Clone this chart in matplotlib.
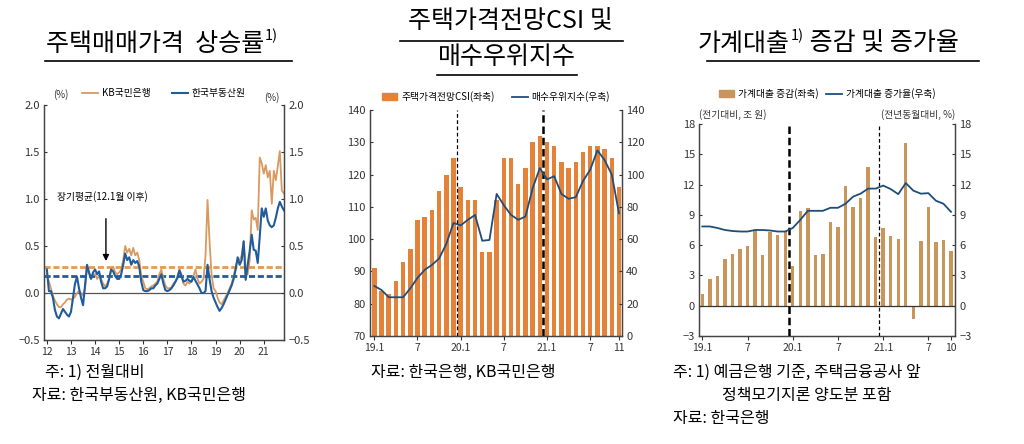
import matplotlib
matplotlib.use('Agg')
import matplotlib.pyplot as plt
import numpy as np
from matplotlib.patches import Patch
from matplotlib.lines import Line2D

plt.rcParams['font.family'] = ['Noto Sans CJK KR', 'DejaVu Sans']
plt.rcParams['axes.unicode_minus'] = True

# ---------------- data ----------------
# Panel 1: monthly house price change (%), 2012.1 - 2021.11
kb_rate = [
    0.20, 0.12, 0.05, -0.03, -0.08, -0.12, -0.15, -0.15, -0.12, -0.10, -0.07, -0.06,
    -0.07, -0.06, -0.04, 0.00, 0.02, 0.00, -0.03, 0.05, 0.28, 0.20, 0.17, 0.20,
    0.20, 0.15, 0.18, 0.15, 0.10, 0.07, 0.10, 0.15, 0.25, 0.28, 0.22, 0.20,
    0.22, 0.25, 0.35, 0.50, 0.43, 0.47, 0.40, 0.48, 0.40, 0.43, 0.35, 0.18,
    0.12, 0.05, 0.04, 0.05, 0.07, 0.08, 0.10, 0.12, 0.20, 0.25, 0.15, 0.08,
    0.05, 0.05, 0.06, 0.10, 0.12, 0.18, 0.25, 0.20, 0.10, 0.08, 0.12, 0.10,
    0.13, 0.18, 0.25, 0.15, 0.10, 0.12, 0.15, 0.40, 0.99, 0.55, 0.20, 0.05,
    0.02, -0.05, -0.10, -0.12, -0.08, -0.04, 0.00, 0.05, 0.10, 0.18, 0.28, 0.35,
    0.35, 0.40, 0.55, 0.25, 0.20, 0.35, 0.88, 0.78, 0.80, 0.67, 1.44, 1.38,
    1.27, 1.36, 1.23, 1.30, 0.95, 1.30, 1.20, 1.35, 1.51, 1.09, 1.06,
]
reb_rate = [
    0.25, 0.02, 0.02, -0.05, -0.18, -0.25, -0.27, -0.22, -0.17, -0.20, -0.23, -0.25,
    -0.20, -0.05, 0.10, 0.17, 0.05, -0.05, -0.13, 0.08, 0.30, 0.22, 0.15, 0.22,
    0.25, 0.20, 0.23, 0.12, 0.05, 0.05, 0.07, 0.15, 0.25, 0.23, 0.18, 0.15,
    0.15, 0.20, 0.30, 0.42, 0.35, 0.38, 0.30, 0.35, 0.32, 0.34, 0.28, 0.12,
    0.03, 0.02, 0.02, 0.03, 0.05, 0.05, 0.08, 0.10, 0.15, 0.20, 0.10, 0.03,
    0.02, 0.03, 0.05, 0.08, 0.12, 0.16, 0.24, 0.18, 0.12, 0.13, 0.15, 0.13,
    0.12, 0.17, 0.13, 0.09, 0.05, 0.00, 0.00, 0.02, 0.30, 0.15, 0.02, -0.05,
    -0.10, -0.15, -0.19, -0.16, -0.12, -0.07, -0.02, 0.03, 0.08, 0.15, 0.25, 0.38,
    0.30, 0.35, 0.55, 0.14, 0.30, 0.45, 0.62, 0.46, 0.45, 0.32, 0.60, 0.90,
    0.81, 0.90, 0.77, 0.72, 0.70, 0.72, 0.80, 0.90, 0.97, 0.92, 0.88,
]
kb_mean = 0.28
reb_mean = 0.176
p1_years = ['12', '13', '14', '15', '16', '17', '18', '19', '20', '21']

# Panel 2: 2019.1 - 2021.11
csi = [91, 84, 83, 87, 93, 97, 106, 107, 109, 115, 120, 125,
       116, 112, 112, 96, 96, 112, 125, 125, 117, 122, 130, 132,
       130, 129, 124, 122, 124, 127, 129, 129, 128, 125, 116]
buy_index = [31, 28.5, 24, 24, 24, 29.5, 36, 41, 44, 48, 57, 70,
             68.5, 72, 75, 59, 59.5, 88, 81, 75, 72, 74, 91.5, 104,
             97, 99, 88, 85, 86, 96, 103, 115, 109, 100, 76]
p2_ticks = ['19.1', '7', '20.1', '7', '21.1', '7', '11']
p2_tickpos = [0, 6, 12, 18, 24, 30, 34]

# Panel 3: 2019.1 - 2021.10
loan_chg = [1.2, 2.6, 2.9, 4.6, 5.1, 5.6, 5.9, 7.5, 5.0, 7.3, 7.0, 7.4,
            3.9, 9.4, 9.7, 5.0, 5.1, 8.3, 7.8, 11.9, 9.8, 10.7, 13.7, 6.8,
            7.7, 6.9, 6.6, 16.1, -1.3, 6.4, 9.8, 6.3, 6.5, 5.4]
loan_growth = [7.85, 7.85, 7.7, 7.5, 7.4, 7.35, 7.35, 7.5, 7.5, 7.45, 7.35, 7.35,
               7.7, 8.5, 9.4, 9.4, 9.4, 9.7, 9.7, 10.1, 10.8, 11.1, 11.6, 11.6,
               11.9, 11.55, 11.05, 12.15, 11.4, 11.1, 11.15, 10.4, 10.1, 9.3]
p3_ticks = ['19.1', '7', '20.1', '7', '21.1', '7', '10']
p3_tickpos = [0, 6, 12, 18, 24, 30, 33]

# ---------------- figure ----------------
W, H = 1024, 444
fig = plt.figure(figsize=(W / 100, H / 100), dpi=100)
fig.patch.set_facecolor('white')
renderer = fig.canvas.get_renderer()

ORANGE_LINE = '#D89A5E'
BLUE = '#1F5C9E'
NAVY = '#1F4E79'
BAR2 = '#E5823A'
BAR3 = '#C8955B'
TXT = '#333333'


def add_ax(l, t, r, b):
    return fig.add_axes([l / W, 1 - b / H, (r - l) / W, (b - t) / H])


def ftext(x, y, s, **kw):
    return fig.text(x / W, 1 - y / H, s, **kw)


def hline(x0, x1, y, lw=1.2, color='black'):
    fig.add_artist(Line2D([x0 / W, x1 / W], [1 - y / H, 1 - y / H],
                          transform=fig.transFigure, color=color, lw=lw))


def chain(x, y, parts, size):
    cur = x
    for s, sup in parts:
        if sup:
            t = ftext(cur + 1, y - 8, s, fontsize=size * 0.58, va='center', ha='left')
        else:
            t = ftext(cur, y, s, fontsize=size, va='center', ha='left')
        cur = t.get_window_extent(renderer).x1
    return cur


def style_axes(ax, twin):
    for a in (ax, twin):
        a.spines['top'].set_visible(False)
        for s in ('left', 'right', 'bottom'):
            a.spines[s].set_color('#444444')
            a.spines[s].set_linewidth(0.9)
    ax.tick_params(axis='y', direction='in', length=2.5, labelsize=8, colors=TXT, pad=3)
    twin.tick_params(axis='y', direction='in', length=2.5, labelsize=8, colors=TXT, pad=3)
    ax.tick_params(axis='x', direction='out', length=3, labelsize=7.5, colors=TXT, pad=2)


# ---------------- Panel 1 ----------------
ax1 = add_ax(44, 105, 284, 340)
tw1 = ax1.twinx()
x1 = 12 + np.arange(len(kb_rate)) / 12.0
ax1.axhline(0, color='#555555', lw=0.9)
ax1.axhline(kb_mean, color='#E39A52', lw=2.0, ls=(0, (2.2, 1.0)))
ax1.axhline(reb_mean, color=BLUE, lw=2.0, ls=(0, (2.2, 1.0)))
ax1.plot(x1, kb_rate, color=ORANGE_LINE, lw=1.3, label='KB국민은행')
ax1.plot(x1, reb_rate, color=BLUE, lw=1.5, label='한국부동산원')
ax1.set_xlim(11.88, 21.84)
ax1.set_ylim(-0.5, 2.0)
tw1.set_ylim(-0.5, 2.0)
yt = [-0.5, 0.0, 0.5, 1.0, 1.5, 2.0]
ax1.set_yticks(yt)
tw1.set_yticks(yt)
ax1.set_yticklabels([f'{v:.1f}'.replace('-', '\u2212') for v in yt])
tw1.set_yticklabels([f'{v:.1f}'.replace('-', '\u2212') for v in yt])
ax1.set_xticks(np.arange(12, 22))
ax1.set_xticklabels(p1_years)
style_axes(ax1, tw1)
ax1.legend(loc='lower center', bbox_to_anchor=(0.5, 1.0), ncol=2, frameon=False,
           fontsize=7, handlelength=1.6, columnspacing=2.2, handletextpad=0.4,
           borderaxespad=0.3)
ax1.text(0.04, 1.02, '(%)', transform=ax1.transAxes, fontsize=7, color=TXT, ha='left', va='bottom')
tw1.text(0.98, 1.01, '(%)', transform=tw1.transAxes, fontsize=7, color=TXT, ha='right', va='bottom')
ax1.text(12.42, 1.03, '장기평균(12.1월 이후)', fontsize=7, color='black', ha='left', va='center')
ax1.annotate('', xy=(14.45, 0.31), xytext=(14.45, 0.82),
             arrowprops=dict(arrowstyle='-|>', color='black', lw=1.0, mutation_scale=9))

# ---------------- Panel 2 ----------------
ax2 = add_ax(370, 110, 622, 336)
tw2 = ax2.twinx()
x2 = np.arange(len(csi))
ax2.bar(x2, np.array(csi) - 70, bottom=70, width=0.62, color=BAR2, label='주택가격전망CSI(좌축)', zorder=2)
ax2.set_xlim(-0.6, 34.42)
ax2.set_ylim(70, 140)
ax2.set_yticks(np.arange(70, 141, 10))
tw2.plot(x2, buy_index, color=NAVY, lw=1.3, zorder=3)
tw2.set_ylim(0, 140)
tw2.set_yticks(np.arange(0, 141, 20))
ax2.axvline(11.5, color='black', lw=0.9, ls=(0, (3, 2)), zorder=4)
ax2.axvline(23.5, color='black', lw=1.8, ls=(0, (3, 1.5)), zorder=4)
ax2.set_xticks(p2_tickpos)
ax2.set_xticklabels(p2_ticks)
style_axes(ax2, tw2)
h2 = [Patch(color=BAR2), Line2D([0], [0], color=NAVY, lw=1.3)]
ax2.legend(h2, ['주택가격전망CSI(좌축)', '매수우위지수(우축)'], loc='lower center',
           bbox_to_anchor=(0.5, 1.0), ncol=2, frameon=False, fontsize=7,
           handlelength=1.6, handleheight=0.7, columnspacing=1.8, handletextpad=0.4,
           borderaxespad=0.4)

# ---------------- Panel 3 ----------------
ax3 = add_ax(699, 124, 955, 336)
tw3 = ax3.twinx()
x3 = np.arange(len(loan_chg))
ax3.bar(x3, loan_chg, width=0.45, color=BAR3, zorder=2)
ax3.axhline(0, color='#333333', lw=0.9, zorder=3)
tw3.plot(x3, loan_growth, color=NAVY, lw=1.3, zorder=3)
ax3.set_xlim(-0.44, 33.53)
ax3.set_ylim(-3, 18)
tw3.set_ylim(-3, 18)
ax3.set_yticks(np.arange(-3, 19, 3))
tw3.set_yticks(np.arange(-3, 19, 3))
ax3.axvline(11.5, color='black', lw=1.8, ls=(0, (3, 1.5)), zorder=4)
ax3.axvline(23.5, color='black', lw=0.9, ls=(0, (3, 2)), zorder=4)
ax3.set_xticks(p3_tickpos)
ax3.set_xticklabels(p3_ticks)
style_axes(ax3, tw3)
h3 = [Patch(color=BAR3), Line2D([0], [0], color=NAVY, lw=1.3)]
ax3.legend(h3, ['가계대출 증감(좌축)', '가계대출 증가율(우축)'], loc='lower center',
           bbox_to_anchor=(0.5, 1.08), ncol=2, frameon=False, fontsize=7,
           handlelength=1.6, handleheight=0.7, columnspacing=0.8, handletextpad=0.4,
           borderaxespad=0.4)
ax3.text(0.0, 1.02, '(전기대비, 조 원)', transform=ax3.transAxes, fontsize=7, color=TXT,
         ha='left', va='bottom')
ax3.text(1.0, 1.02, '(전년동월대비, %)', transform=ax3.transAxes, fontsize=7, color=TXT,
         ha='right', va='bottom')

# ---------------- Titles ----------------
TS = 18
chain(46, 44, [('주택매매가격  상승률', False), ('1)', True)], TS)
hline(45, 292, 61)
ftext(510, 22, '주택가격전망CSI 및', fontsize=TS, ha='center', va='center')
hline(400, 623, 41)
ftext(507, 57, '매수우위지수', fontsize=TS, ha='center', va='center')
hline(437, 577, 75)
chain(698, 44, [('가계대출', False), ('1)', True), (' 증감 및 증가율', False)], TS)
hline(707, 979, 61)

# ---------------- Footnotes ----------------
FS = 11.5
ftext(45, 372, '주: 1) 전월대비', fontsize=FS, ha='left', va='center')
ftext(32, 395, '자료: 한국부동산원, KB국민은행', fontsize=FS, ha='left', va='center')
ftext(371, 372, '자료: 한국은행, KB국민은행', fontsize=FS, ha='left', va='center')
ftext(673, 372, '주: 1) 예금은행 기준, 주택금융공사 앞', fontsize=FS, ha='left', va='center')
ftext(722, 395, '정책모기지론 양도분 포함', fontsize=FS, ha='left', va='center')
ftext(673, 418, '자료: 한국은행', fontsize=FS, ha='left', va='center')

fig.savefig('out.png', dpi=100, facecolor='white')
